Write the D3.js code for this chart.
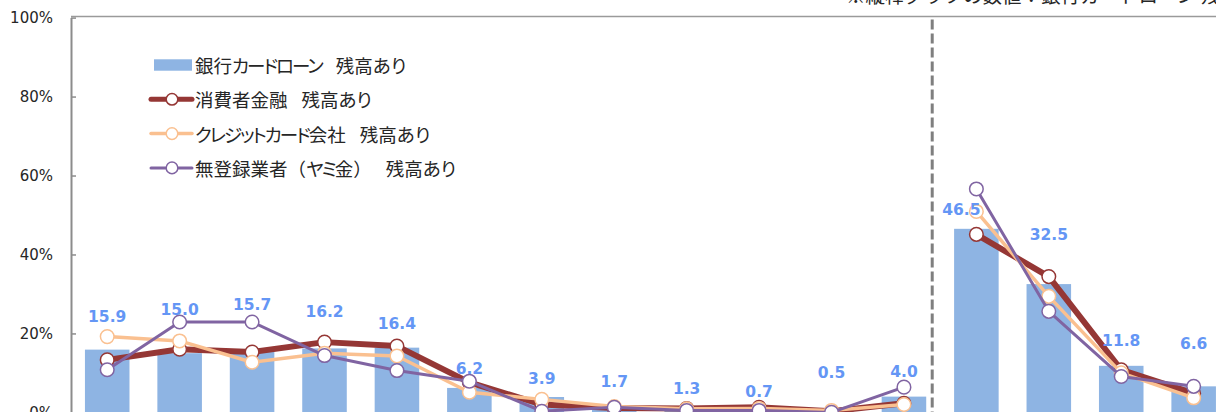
<!DOCTYPE html>
<html>
<head>
<meta charset="utf-8">
<script src="https://cdn.jsdelivr.net/npm/d3@7"></script>
<style>
  html, body { margin: 0; padding: 0; background: #fff; overflow: hidden; }
  svg { display: block; }
</style>
</head>
<body>
<svg id="chart" width="1216" height="412"></svg>
<script>
// ---- data ----
const categories = ["区分01","区分02","区分03","区分04","区分05","区分06","区分07","区分08",
                    "区分09","区分10","区分11","区分12","区分13","区分14","区分15","区分16"];
// the categories form two separate groups; lines are not joined across them
const groupOf = [1,1,1,1,1,1,1,1,1,1,1,1,2,2,2,2];
const bankCardLoan = [15.9, 15.0, 15.7, 16.2, 16.4, 6.2, 3.9, 1.7, 1.3, 0.7, 0.5, 4.0, 46.5, 32.5, 11.8, 6.6];
const consumerFinance = [13.3, 16.0, 15.3, 17.8, 16.8, 7.6, 2.0, 1.1, 1.0, 1.3, 0.3, 2.3, 45.1, 34.4, 10.8, 4.8];
const creditCardCo = [19.2, 18.1, 12.7, 15.0, 14.3, 5.1, 3.3, 1.5, 0.9, 1.0, 0.5, 2.0, 50.9, 29.4, 10.0, 3.7];
const unregistered = [10.8, 22.9, 22.9, 14.4, 10.6, 7.9, 0.3, 1.3, 0.5, 0.5, 0.0, 6.4, 56.6, 25.6, 9.1, 6.6];
const yTicks = [0, 20, 40, 60, 80, 100];
const seriesNames = ["銀行カードローン", "消費者金融", "クレジットカード会社", "無登録業者（ヤミ金）"];
const seriesSuffix = "残高あり";
const noteText = "※縦棒グラフの数値：銀行カードローン 残高あり";

// ---- layout ----
const W = 1216, H = 412;
const plotLeft = 71, step = 72.43;
// how far each value label sits above its bar top (px), and horizontal nudges
const labelLift = [33, 43, 45, 36, 24, 19, 18, 24, 18, 18, 37, 25, 19, 49, 25, 42];
const labelShift = [0, 0, 0, 0, 0, 0, 0, 0, 0, 0, 0, 0, -15, 0, 0, 0];

const colors = {
  bar: "#8EB4E3",
  label: "#6496F5",
  red: "#953735",
  orange: "#FAC090",
  purple: "#8064A2",
  axis: "#8C8C8C",
  text: "#262626"
};

const svg = d3.select("#chart");

const x = d3.scaleBand()
  .domain(categories)
  .range([plotLeft, plotLeft + step * categories.length])
  .paddingInner(0.385)
  .paddingOuter(0.1925);

const y = d3.scaleLinear().domain([0, 100]).range([412.4, 17.6]);
const cx = (i) => x(categories[i]) + x.bandwidth() / 2;

// plot frame: top border
svg.append("line")
  .attr("x1", plotLeft).attr("x2", W)
  .attr("y1", y(100) - 1).attr("y2", y(100) - 1)
  .attr("stroke", "#9A9A9A").attr("stroke-width", 1.5);

// bars
svg.append("g").selectAll("rect")
  .data(bankCardLoan)
  .join("rect")
  .attr("x", (d, i) => x(categories[i]))
  .attr("y", d => y(d))
  .attr("width", x.bandwidth())
  .attr("height", d => y(0) - y(d))
  .attr("fill", colors.bar);

// divider between the two groups
const lastOfFirst = groupOf.lastIndexOf(1);
const divX = x(categories[lastOfFirst]) + x.bandwidth() + 6;
svg.append("line")
  .attr("x1", divX).attr("x2", divX)
  .attr("y1", y(100) + 2).attr("y2", H)
  .attr("stroke", "#7F7F7F").attr("stroke-width", 3)
  .attr("stroke-dasharray", "10,4");

// y axis
const yAxis = d3.axisLeft(y)
  .tickValues(yTicks)
  .tickFormat(d => d + "%")
  .tickSizeInner(-5)
  .tickSizeOuter(0)
  .tickPadding(18);
const gy = svg.append("g").attr("transform", `translate(${plotLeft},0)`).call(yAxis);
gy.select(".domain").attr("stroke", colors.axis).attr("stroke-width", 2);
gy.selectAll(".tick line").attr("stroke", colors.axis).attr("stroke-width", 1.5);
gy.selectAll(".tick text")
  .attr("fill", colors.text)
  .attr("font-family", "DejaVu Sans, Verdana, sans-serif")
  .attr("font-size", 15);

// line series, drawn separately for each group
const lineSeries = [
  { values: consumerFinance, color: colors.red, width: 6 },
  { values: creditCardCo, color: colors.orange, width: 3.5 },
  { values: unregistered, color: colors.purple, width: 3 }
];
const lineGen = d3.line().x(d => cx(d.i)).y(d => y(d.v));
const groupIds = Array.from(new Set(groupOf));

lineSeries.forEach(s => {
  const g = svg.append("g");
  const pts = s.values.map((v, i) => ({ v, i, grp: groupOf[i] }));
  groupIds.forEach(gid => {
    g.append("path")
      .attr("d", lineGen(pts.filter(p => p.grp === gid)))
      .attr("fill", "none")
      .attr("stroke", s.color)
      .attr("stroke-width", s.width)
      .attr("stroke-linejoin", "round");
  });
  g.selectAll("circle")
    .data(pts)
    .join("circle")
    .attr("cx", d => cx(d.i))
    .attr("cy", d => y(d.v))
    .attr("r", 6.8)
    .attr("fill", "#fff")
    .attr("stroke", s.color)
    .attr("stroke-width", 1.5);
});

// value labels for the bars
svg.append("g").selectAll("text")
  .data(bankCardLoan)
  .join("text")
  .attr("x", (d, i) => cx(i) + labelShift[i])
  .attr("y", (d, i) => y(d) - labelLift[i])
  .attr("text-anchor", "middle")
  .attr("dominant-baseline", "central")
  .attr("font-family", "DejaVu Sans, Verdana, sans-serif")
  .attr("font-weight", "bold")
  .attr("font-size", 15.5)
  .attr("fill", colors.label)
  .text(d => d.toFixed(1));

// legend
const legend = svg.append("g");
const legendX = 152, legendY0 = 65, legendStep = 34.3;
const legendItems = [
  { type: "bar", color: colors.bar },
  { type: "line", color: colors.red, width: 5 },
  { type: "line", color: colors.orange, width: 3.5 },
  { type: "line", color: colors.purple, width: 3 }
];
legendItems.forEach((it, i) => {
  const ly = legendY0 + i * legendStep;
  if (it.type === "bar") {
    legend.append("rect")
      .attr("x", legendX + 2).attr("y", ly - 5.7)
      .attr("width", 38).attr("height", 11.4)
      .attr("fill", it.color);
  } else {
    legend.append("line")
      .attr("x1", legendX - 1).attr("x2", legendX + 40)
      .attr("y1", ly).attr("y2", ly)
      .attr("stroke", it.color).attr("stroke-width", it.width)
      .attr("stroke-linecap", "round");
    legend.append("circle")
      .attr("cx", legendX + 20).attr("cy", ly)
      .attr("r", 5.8)
      .attr("fill", "#fff")
      .attr("stroke", it.color).attr("stroke-width", 1.5);
  }
  const t = legend.append("text")
    .attr("x", legendX + 43)
    .attr("y", ly)
    .attr("dominant-baseline", "central")
    .attr("font-family", "Noto Sans CJK JP, sans-serif")
    .attr("font-size", 18.5)
    .attr("fill", colors.text);
  // proportional kana with tighter katakana runs; brackets stay full width
  seriesNames[i].split(/([（）]|[ァ-ヶー]+)/).filter(s => s.length).forEach(part => {
    const isBracket = /^[（）]$/.test(part);
    const isKatakana = /^[ァ-ヶー]+$/.test(part);
    t.append("tspan")
      .style("font-feature-settings", isBracket ? "normal" : "'palt'")
      .style("letter-spacing", isKatakana ? "-2px" : "0px")
      .text(part);
  });
  t.append("tspan")
    .attr("dx", 14)
    .style("font-feature-settings", "'palt'")
    .text(seriesSuffix);
});

// note above the plot
svg.append("text")
  .attr("x", 846)
  .attr("y", 3)
  .attr("font-family", "Noto Sans CJK JP, sans-serif")
  .attr("font-size", 19.5)
  .attr("fill", colors.text)
  .text(noteText);
</script>
</body>
</html>
